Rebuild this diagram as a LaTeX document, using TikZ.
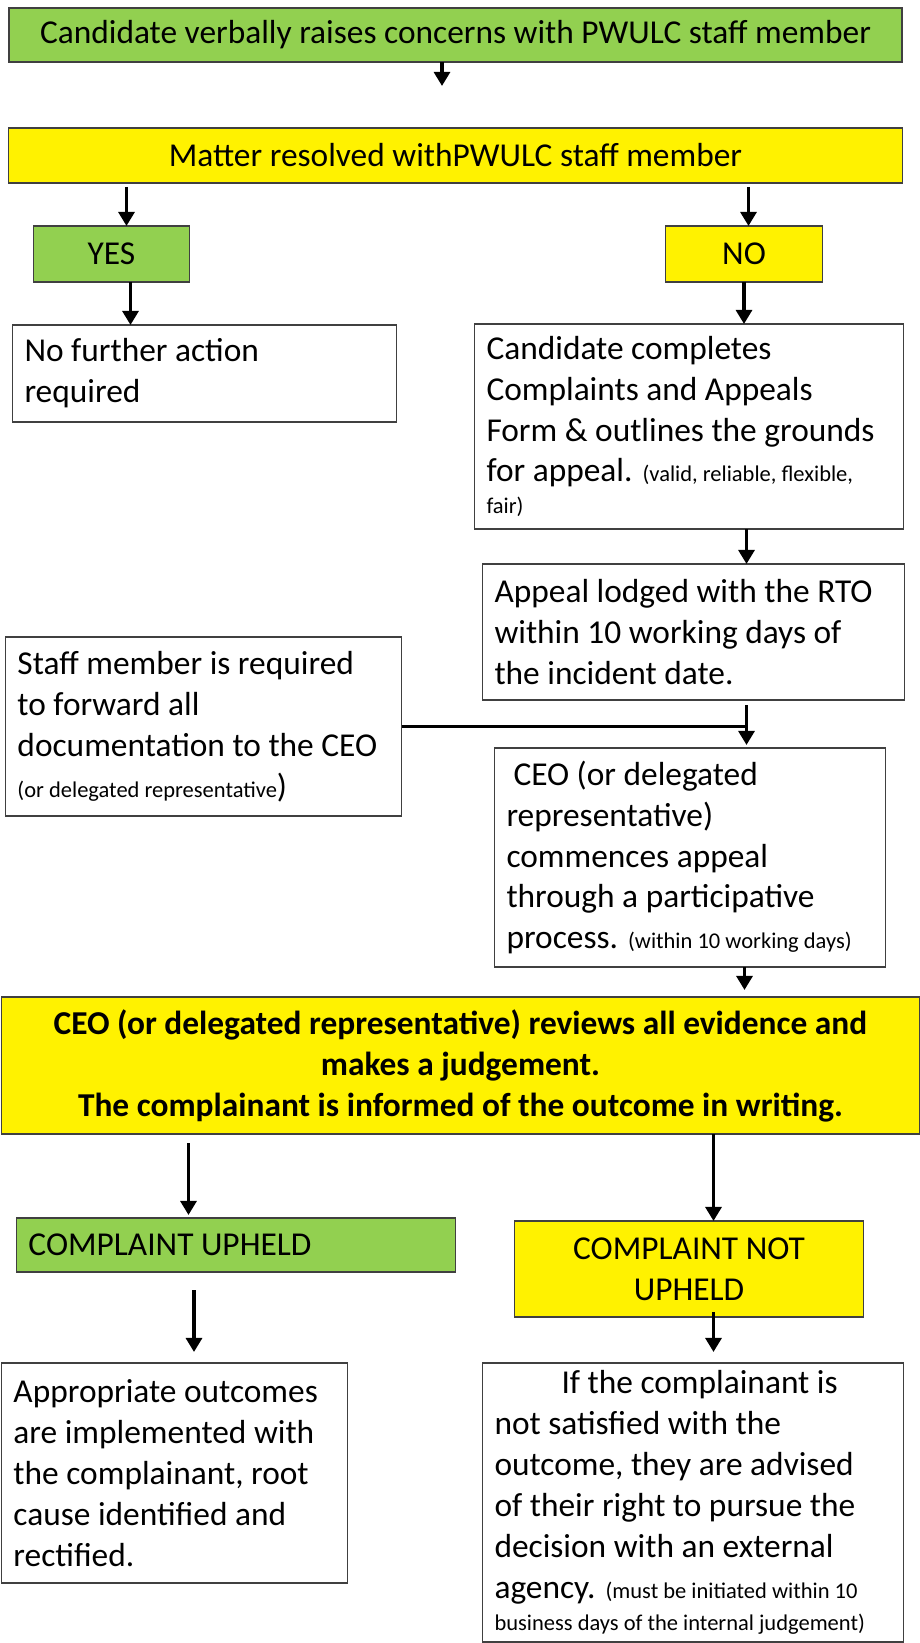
\documentclass[tikz,border=0pt]{standalone}
\usepackage{fontspec}
\setmainfont{Carlito}
\usetikzlibrary{arrows.meta, positioning}

\definecolor{okgreen}{HTML}{92D050}
\newcommand{\smallnote}[1]{{\fontsize{12.8}{15.4}\selectfont #1}}

\begin{document}
\begin{tikzpicture}[node distance=1cm, auto,
    stage/.style={rectangle, draw=black!75, line width=0.9pt, outer sep=0pt, inner xsep=0.24cm, align=flush left, font=\fontsize{19}{23.3}\selectfont},
    banner/.style={rectangle, draw=black!75, line width=0.9pt, outer sep=0pt, align=center, font=\fontsize{19}{23.3}\selectfont},
    greenbox/.style={banner, fill=okgreen},
    yellowbox/.style={banner, fill=yellow},
    line/.style={draw, line width=2.2pt, -{Triangle[width=9pt, length=8pt]}},
    feed/.style={draw, line width=2.2pt}
]
    \useasboundingbox (0,0) rectangle (18.4,-32.86);

    % First contact
    \node [greenbox, minimum width=17.86cm, minimum height=1.08cm] (raise) at (9.11,-0.70) {Candidate verbally raises concerns with PWULC staff member};
    \node [yellowbox, minimum width=17.88cm, minimum height=1.1cm, below=1.32cm of raise] (resolved) {Matter resolved withPWULC staff member};

    % Yes / No
    \node [greenbox, minimum width=3.12cm, minimum height=1.12cm, below=0.86cm of resolved, xshift=-6.88cm] (yes) {YES};
    \node [yellowbox, minimum width=3.14cm, minimum height=1.12cm, below=0.86cm of resolved, xshift=5.77cm] (no) {NO};

    \node [stage, text width=7.2cm, minimum height=1.94cm, below=0.86cm of yes, xshift=1.86cm] (nofurther) {No further action\\required};
    \node [stage, text width=8.1cm, minimum height=4.1cm, below=0.84cm of no, xshift=-1.1cm] (complete) {Candidate completes\\Complaints and Appeals\\Form \& outlines the grounds\\for appeal. \smallnote{(valid, reliable, flexible,}\\[-0.18cm]\smallnote{fair)}};

    % Formal appeal
    \node [stage, text width=7.96cm, minimum height=2.72cm, below=0.7cm of complete, xshift=0.09cm] (lodged) {Appeal lodged with the RTO\\within 10 working days of\\the incident date.};
    \node [stage, text width=7.34cm, minimum height=4.38cm, below=0.96cm of lodged, xshift=-0.07cm] (commences) {\hspace*{0.14cm}CEO (or delegated\\representative)\\commences appeal\\through a participative\\process. \smallnote{(within 10 working days)}};
    \node [stage, text width=7.44cm, minimum height=3.58cm, left=1.62cm of lodged, yshift=-1.89cm] (staff) {Staff member is required\\to forward all\\documentation to the CEO\\\smallnote{(or delegated representative})};

    % Judgement
    \node [yellowbox, font=\fontsize{19}{23.3}\selectfont\bfseries, minimum width=18.36cm, minimum height=2.74cm, below=0.6cm of commences, xshift=-4.59cm] (review) {CEO (or delegated representative) reviews all evidence and\\makes a judgement.\\The complainant is informed of the outcome in writing.};

    % Results
    \node [greenbox, align=flush left, text width=8.3cm, inner xsep=0.24cm, minimum height=1.08cm, below=1.68cm of review, xshift=-4.49cm] (upheld) {COMPLAINT UPHELD};
    \node [yellowbox, minimum width=6.98cm, minimum height=1.92cm, below=1.74cm of review, xshift=4.57cm] (notupheld) {COMPLAINT NOT\\UPHELD};
    \node [stage, text width=6.44cm, minimum height=4.4cm, below=1.82cm of upheld, xshift=-1.23cm] (outcomes) {Appropriate outcomes\\are implemented with\\the complainant, root\\cause identified and\\rectified.};
    \node [stage, text width=7.94cm, minimum height=5.58cm, below=0.92cm of notupheld, xshift=0.08cm] (external) {\hspace*{1.34cm}If the complainant is\\not satisfied with the\\outcome, they are advised\\of their right to pursue the\\decision with an external\\agency. \smallnote{(must be initiated within 10}\\[-0.18cm]\smallnote{business days of the internal judgement)}};

    % Connections
    \path [line, shorten >=0.84cm] ([xshift=-0.27cm]raise.south) -- ([xshift=-0.27cm]raise.south |- resolved.north);
    \path [line, shorten <=0.08cm] ([xshift=0.3cm]yes.north |- resolved.south) -- ([xshift=0.3cm]yes.north);
    \path [line, shorten <=0.08cm] ([xshift=0.09cm]no.north |- resolved.south) -- ([xshift=0.09cm]no.north);
    \path [line] ([xshift=0.38cm]yes.south) -- ([xshift=0.38cm]yes.south |- nofurther.north);
    \path [line] (no.south) -- (no.south |- complete.north);
    \path [line] ([xshift=1.15cm]complete.south) -- ([xshift=1.15cm]complete.south |- lodged.north);

    \coordinate (join) at ([xshift=1.06cm]lodged.south);
    \path [line, shorten <=0.1cm, shorten >=0.06cm] (join) -- (join |- commences.north);
    \path [feed] (staff.east) -- (staff.east -| join);

    \path [line, shorten >=0.14cm] ([xshift=1.09cm]commences.south) -- ([xshift=1.09cm]commences.south |- review.north);
    \path [line, shorten <=0.18cm, shorten >=0.06cm] ([xshift=-0.95cm]upheld.north |- review.south) -- ([xshift=-0.95cm]upheld.north);
    \path [line] ([xshift=0.49cm]notupheld.north |- review.south) -- ([xshift=0.49cm]notupheld.north);
    \path [line, shorten <=0.36cm, shorten >=0.22cm] ([xshift=0.39cm]outcomes.north |- upheld.south) -- ([xshift=0.39cm]outcomes.north);
    \path [line, shorten <=-0.1cm, shorten >=0.22cm] ([xshift=0.41cm]external.north |- notupheld.south) -- ([xshift=0.41cm]external.north);
\end{tikzpicture}
\end{document}
